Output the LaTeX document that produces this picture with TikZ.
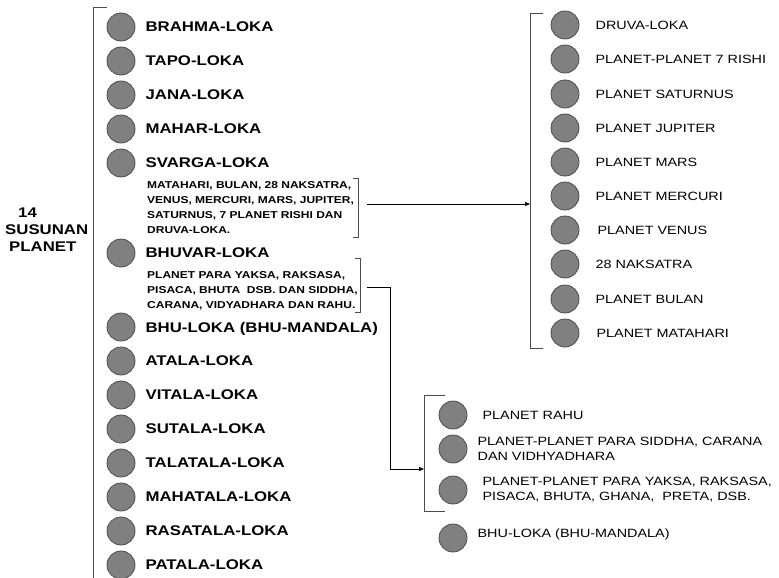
\documentclass[tikz,border=0pt]{standalone}
\usepackage{fontspec}
\setmainfont{Liberation Sans}[FakeStretch=1.2]
\usetikzlibrary{arrows.meta, positioning}

\begin{document}
\begin{tikzpicture}[x=1pt, y=-1pt,
    planet/.style={circle, draw=black!70, fill=black!50, line width=0.8pt, minimum size=28pt, inner sep=0pt},
    loka/.style={font=\fontsize{14}{17}\selectfont\bfseries, inner sep=0pt, text depth=0pt},
    isi/.style={font=\fontsize{12}{15}\selectfont, inner sep=0pt, align=left},
    catatan/.style={font=\fontsize{10}{15}\selectfont\bfseries, inner sep=0pt, align=left, anchor=north west},
    kurung/.style={draw=black!70, line width=0.8pt},
    tautan/.style={draw=black, line width=0.6pt, -{Triangle[length=5pt,width=4pt]}}]
  \useasboundingbox (0,0) rectangle (779,578);

  % judul
  \node[loka, align=left, anchor=west] (judul) at (5,230)
    {\hspace*{13pt}14\\SUSUNAN\\\hspace*{4pt}PLANET};
  \draw[kurung] (107,7) -- (93,7) -- (93,578);

  % planet atas
  \node[planet] (brahma) at (121,27) {};
  \node[loka, right=10pt of brahma] (brahmaT) {BRAHMA-LOKA};
  \node[planet] (tapo) at (121,61) {};
  \node[loka, right=10pt of tapo] (tapoT) {TAPO-LOKA};
  \node[planet] (jana) at (121,95) {};
  \node[loka, right=10pt of jana] (janaT) {JANA-LOKA};
  \node[planet] (mahar) at (121,129) {};
  \node[loka, right=10pt of mahar] (maharT) {MAHAR-LOKA};
  \node[planet] (svarga) at (121,163) {};
  \node[loka, right=10pt of svarga] (svargaT) {SVARGA-LOKA};
  \node[catatan] (svargaN) at (147,181)
    {MATAHARI, BULAN, 28 NAKSATRA,\\VENUS, MERCURI, MARS, JUPITER,\\SATURNUS, 7 PLANET RISHI DAN\\DRUVA-LOKA.};
  \draw[kurung] (353,178) -- (358,178) -- (358,237) -- (353,237);

  % bhuvar
  \node[planet] (bhuvar) at (121,253) {};
  \node[loka, right=10pt of bhuvar] (bhuvarT) {BHUVAR-LOKA};
  \node[catatan] (bhuvarN) at (147,271)
    {PLANET PARA YAKSA, RAKSASA,\\PISACA, BHUTA\ \ DSB. DAN SIDDHA,\\CARANA, VIDYADHARA DAN RAHU.};
  \draw[kurung] (355,258) -- (360,258) -- (360,312) -- (355,312);

  % planet bawah
  \node[planet] (bhu) at (121,327) {};
  \node[loka, right=10pt of bhu] (bhuT) {BHU-LOKA (BHU-MANDALA)};
  \node[planet] (atala) at (121,361) {};
  \node[loka, right=10pt of atala] (atalaT) {ATALA-LOKA};
  \node[planet] (vitala) at (121,395) {};
  \node[loka, right=10pt of vitala] (vitalaT) {VITALA-LOKA};
  \node[planet] (sutala) at (121,429) {};
  \node[loka, right=10pt of sutala] (sutalaT) {SUTALA-LOKA};
  \node[planet] (talatala) at (121,463) {};
  \node[loka, right=10pt of talatala] (talatalaT) {TALATALA-LOKA};
  \node[planet] (mahatala) at (121,497) {};
  \node[loka, right=10pt of mahatala] (mahatalaT) {MAHATALA-LOKA};
  \node[planet] (rasatala) at (121,531) {};
  \node[loka, right=10pt of rasatala] (rasatalaT) {RASATALA-LOKA};
  \node[planet] (patala) at (121,565) {};
  \node[loka, right=10pt of patala] (patalaT) {PATALA-LOKA};

  % isi svarga-loka
  \node[planet] (druva) at (565,25) {};
  \node[isi, right=16pt of druva] (druvaT) {DRUVA-LOKA};
  \node[planet] (rishi) at (565,59) {};
  \node[isi, right=16pt of rishi] (rishiT) {PLANET-PLANET 7 RISHI};
  \node[planet] (saturnus) at (565,94) {};
  \node[isi, right=16pt of saturnus] (saturnusT) {PLANET SATURNUS};
  \node[planet] (jupiter) at (565,128) {};
  \node[isi, right=16pt of jupiter] (jupiterT) {PLANET JUPITER};
  \node[planet] (mars) at (565,162) {};
  \node[isi, right=16pt of mars] (marsT) {PLANET MARS};
  \node[planet] (mercuri) at (565,196) {};
  \node[isi, right=16pt of mercuri] (mercuriT) {PLANET MERCURI};
  \node[planet] (venus) at (565,230) {};
  \node[isi, right=18pt of venus] (venusT) {PLANET VENUS};
  \node[planet] (naksatra) at (565,264) {};
  \node[isi, right=16pt of naksatra] (naksatraT) {28 NAKSATRA};
  \node[planet] (bulan) at (565,299) {};
  \node[isi, right=16pt of bulan] (bulanT) {PLANET BULAN};
  \node[planet] (matahari) at (565,333) {};
  \node[isi, right=17pt of matahari] (matahariT) {PLANET MATAHARI};
  \draw[kurung] (543,13) -- (530,13) -- (530,348) -- (543,348);

  % isi bhuvar-loka
  \node[planet] (rahu) at (453,415) {};
  \node[isi, right=15pt of rahu] (rahuT) {PLANET RAHU};
  \node[planet] (siddha) at (453,449) {};
  \node[isi, right=10pt of siddha] (siddhaT) {PLANET-PLANET PARA SIDDHA, CARANA\\DAN VIDHYADHARA};
  \node[planet] (yaksa) at (453,490) {};
  \node[isi, right=15pt of yaksa] (yaksaT) {PLANET-PLANET PARA YAKSA, RAKSASA,\\PISACA, BHUTA, GHANA,\ \ PRETA, DSB.};
  \draw[kurung] (445,395) -- (424,395) -- (424,511) -- (445,511);
  \node[planet] (bhu2) at (453,538) {};
  \node[isi, right=10pt of bhu2, yshift=4pt] (bhu2T) {BHU-LOKA (BHU-MANDALA)};

  % panah
  \coordinate (svargaK) at (367,204);
  \coordinate (atasK) at (530,204);
  \draw[tautan] (svargaK) -- (atasK);
  \coordinate (bhuvarK) at (367,287);
  \coordinate (bawahK) at (424,469);
  \draw[tautan] (bhuvarK) -- ++(23,0) |- (bawahK);
\end{tikzpicture}
\end{document}
